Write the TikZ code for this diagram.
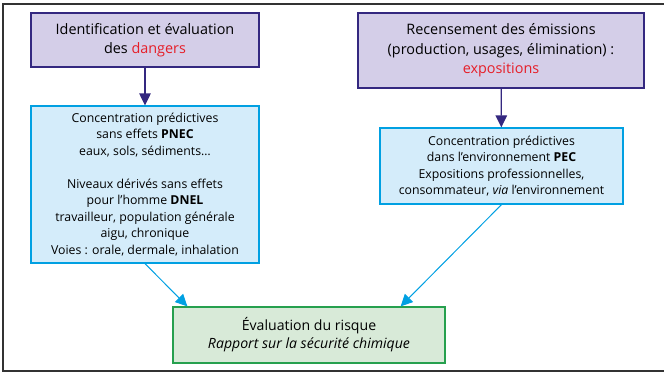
\documentclass[tikz,border=0pt]{standalone}
\usepackage{fontspec}
\setmainfont{Open Sans}
\usepackage{tikz}
\usetikzlibrary{positioning, arrows.meta}
\usepackage{xcolor}
\definecolor{hazfill}{RGB}{212, 206, 232}
\definecolor{hazline}{RGB}{52, 40, 128}
\definecolor{concfill}{RGB}{212, 236, 250}
\definecolor{concline}{RGB}{0, 160, 226}
\definecolor{riskfill}{RGB}{216, 234, 216}
\definecolor{riskline}{RGB}{38, 160, 78}
\definecolor{keyred}{RGB}{230, 30, 40}

\begin{document}
\begin{tikzpicture}[x=1pt, y=-1pt, >={Triangle[length=12pt, width=11.5pt]},
    hazbox/.style={draw=hazline, fill=hazfill, line width=1.2pt, align=center,
      font=\fontsize{14.4}{19.5}\selectfont},
    concbox/.style={draw=concline, fill=concfill, line width=1.2pt, align=center,
      font=\fontsize{12.3}{16.5}\selectfont},
    riskbox/.style={draw=riskline, fill=riskfill, line width=1.2pt, align=center,
      font=\fontsize{14.1}{18}\selectfont}]
  \useasboundingbox (0,0) rectangle (664,373);
  % frame
  \draw[line width=1.3pt, black!80] (3,4) rectangle (670,371);
  % upper row: dangers / emissions
  \node[hazbox, minimum width=228pt, minimum height=54pt] (dang) at (145,40)
    {Identification et évaluation\\des \textcolor{keyred}{dangers}};
  \node[hazbox, minimum width=286pt, minimum height=75pt] (emis) at (501,50.5)
    {Recensement des émissions\\(production, usages, élimination) :\\\textcolor{keyred}{expositions}};
  % middle row: PNEC/DNEL, PEC
  \node[concbox, minimum width=228pt, minimum height=157pt] (pnec) at (145,184.5)
    {Concentration prédictives\\sans effets \textbf{PNEC}\\eaux, sols, sédiments…\\[16.5pt]
     Niveaux dérivés sans effets\\pour l’homme \textbf{DNEL}\\travailleur, population générale\\
     aigu, chronique\\Voies : orale, dermale, inhalation};
  \node[concbox, minimum width=243pt, minimum height=76pt] (pec) at (501.5,166)
    {Concentration prédictives\\dans l’environnement \textbf{PEC}\\Expositions professionnelles,\\
     consommateur, \textit{via} l’environnement};
  % bottom: risk
  \node[riskbox, minimum width=272pt, minimum height=56pt] (risk) at (309,335)
    {Évaluation du risque\\\textit{Rapport sur la sécurité chimique}};
  % arrows
  \draw[->, hazline, line width=1.2pt] (dang) -- (pnec);
  \draw[->, hazline, line width=1.2pt] (emis) -- (pec);
  \draw[->, concline, line width=1pt] (pnec.south) -- ([xshift=15pt]risk.north west);
  \draw[->, concline, line width=1pt] (pec.south) -- ([xshift=-45pt]risk.north east);
\end{tikzpicture}
\end{document}
